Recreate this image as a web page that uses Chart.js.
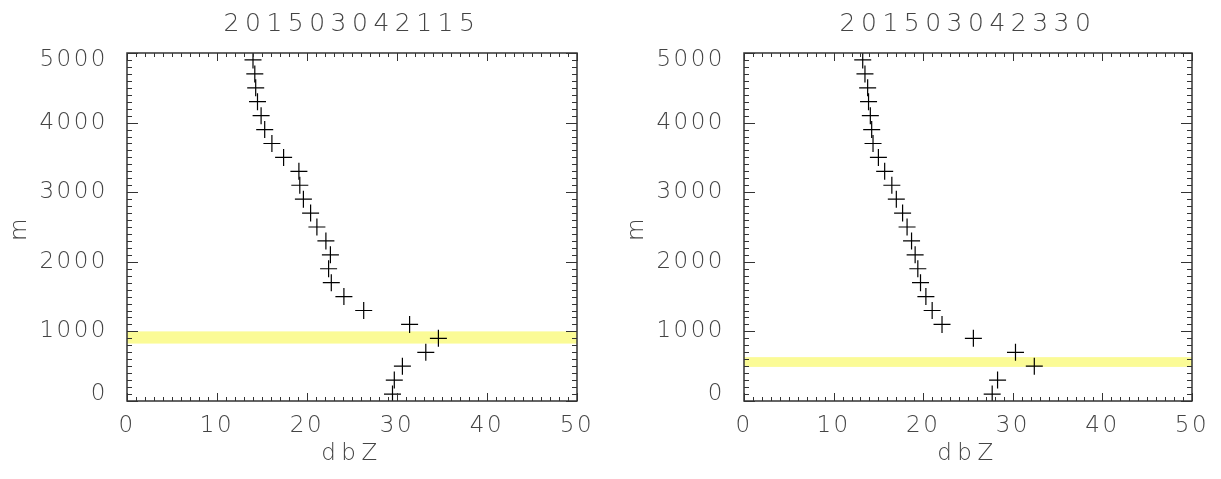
<!DOCTYPE html>
<html>
<head>
<meta charset="utf-8">
<script src="https://cdn.jsdelivr.net/npm/chart.js@4"></script>
<style>
    body { margin: 0; background: #fff; }
    #wrap { position: relative; width: 1221px; height: 479px; }
    #left { position: absolute; left: 0; top: 0; }
    #right { position: absolute; left: 617px; top: 0; }
</style>
</head>
<body>
<div id="wrap">
    <canvas id="left" width="610" height="479"></canvas>
    <canvas id="right" width="604" height="479"></canvas>
</div>
<script>
// heights (m) of the profile levels, shared by both panels
const heights = [100, 300, 500, 700, 900, 1100, 1300, 1500, 1700, 1900, 2100, 2300, 2500,
    2700, 2900, 3100, 3300, 3500, 3700, 3900, 4100, 4300, 4500, 4700, 4900];

// reflectivity (dBZ) per level, bottom to top
const dbzLeft = [29.5, 29.7, 30.6, 33.2, 34.6, 31.4, 26.3, 24.1, 22.7, 22.4, 22.6, 22.1, 21.1,
    20.4, 19.6, 19.2, 19.1, 17.4, 16.1, 15.3, 14.9, 14.5, 14.3, 14.2, 14.0];
const dbzRight = [27.7, 28.3, 32.4, 30.3, 25.6, 22.1, 21.0, 20.3, 19.7, 19.4, 19.1, 18.7, 18.2,
    17.7, 17.0, 16.5, 15.7, 15.0, 14.4, 14.25, 14.1, 13.9, 13.8, 13.5, 13.25];

// highlighted height band [bottom, top] in m
const bandLeft = [825, 1000];
const bandRight = [490, 630];

const titles = ['201503042115', '201503042330'];
const xTicks = [0, 50];
const yTicks = [0, 5000];

const textColor = '#444';
const axisColor = '#333';
const fontFamily = '"DejaVu Sans", sans-serif';
const fontWeight = 200;

// yellow band, frame with inward ticks, IDL-like letter spacing
const frameTicks = {
    id: 'frameTicks',
    beforeDraw(chart) {
        chart.ctx.letterSpacing = '5.5px';
        // end labels of the y axis sit inside the range, as in IDL
        const items = chart.scales.y.getLabelItems();
        if (!items._nudged && items.length) {
            items[0].options.translation[1] -= 7;
            items[items.length - 1].options.translation[1] += 7;
            items._nudged = true;
        }
    },
    beforeDatasetsDraw(chart, args, opts) {
        const { ctx, chartArea, scales } = chart;
        ctx.letterSpacing = '2.5px';
        const yTop = scales.y.getPixelForValue(opts.band[1]);
        const yBot = scales.y.getPixelForValue(opts.band[0]);
        ctx.save();
        ctx.fillStyle = '#fbfb96';
        ctx.fillRect(chartArea.left, yTop, chartArea.right - chartArea.left, yBot - yTop);
        ctx.restore();
    },
    afterDatasetsDraw(chart) {
        const { ctx, chartArea, scales } = chart;
        const { left, right, top, bottom } = chartArea;
        ctx.save();
        ctx.strokeStyle = axisColor;
        ctx.lineWidth = 1.5;
        ctx.strokeRect(left, top, right - left, bottom - top);
        ctx.lineWidth = 1;
        ctx.beginPath();
        for (let v = 0; v <= 50; v += 1) {
            const x = Math.round(scales.x.getPixelForValue(v)) + 0.5;
            const len = v % 10 === 0 ? 8 : 4;
            ctx.moveTo(x, bottom);
            ctx.lineTo(x, bottom - len);
            ctx.moveTo(x, top);
            ctx.lineTo(x, top + len);
        }
        for (let v = 0; v <= 5000; v += 100) {
            const y = Math.round(scales.y.getPixelForValue(v)) + 0.5;
            const len = v % 1000 === 0 ? 11 : 5;
            ctx.moveTo(left, y);
            ctx.lineTo(left + len, y);
            ctx.moveTo(right, y);
            ctx.lineTo(right - len, y);
        }
        ctx.stroke();
        ctx.restore();
    }
};

function makeChart(id, title, dbz, band, padRight) {
    const points = heights.map((h, i) => ({ x: dbz[i], y: h }));
    const labelFont = { family: fontFamily, size: 23, weight: fontWeight };
    return new Chart(document.getElementById(id), {
        type: 'scatter',
        data: {
            datasets: [{
                data: points,
                pointStyle: 'cross',
                pointRadius: 8.5,
                pointHoverRadius: 8.5,
                borderColor: '#000',
                backgroundColor: '#000',
                pointBorderWidth: 1.2
            }]
        },
        options: {
            responsive: false,
            animation: false,
            devicePixelRatio: 1,
            layout: { padding: { left: 0, right: padRight, top: 0, bottom: 0 } },
            scales: {
                x: {
                    type: 'linear',
                    min: xTicks[0],
                    max: xTicks[1],
                    grid: { display: false },
                    border: { display: false },
                    ticks: {
                        z: 1,
                        stepSize: 10,
                        padding: 3,
                        color: textColor,
                        font: labelFont,
                        callback: (v) => String(v)
                    },
                    title: {
                        display: true,
                        text: 'dbZ',
                        color: textColor,
                        font: labelFont,
                        padding: { top: 0, bottom: 11 }
                    },
                    afterFit: (scale) => { scale.height = 78; }
                },
                y: {
                    type: 'linear',
                    min: yTicks[0],
                    max: yTicks[1],
                    grid: { display: false },
                    border: { display: false },
                    ticks: {
                        z: 1,
                        stepSize: 1000,
                        padding: 11,
                        color: textColor,
                        font: labelFont,
                        callback: (v) => String(v)
                    },
                    title: {
                        display: true,
                        text: 'm',
                        color: textColor,
                        font: labelFont,
                        padding: { top: 6, bottom: 0 }
                    },
                    afterFit: (scale) => { scale.width = 127; }
                }
            },
            plugins: {
                legend: { display: false },
                tooltip: { enabled: false },
                title: {
                    display: true,
                    text: title,
                    fullSize: false,
                    color: textColor,
                    font: { family: fontFamily, size: 25, weight: fontWeight },
                    padding: { top: 9, bottom: 14 }
                },
                frameTicks: { band: band }
            }
        },
        plugins: [frameTicks]
    });
}

makeChart('left', titles[0], dbzLeft, bandLeft, 33);
makeChart('right', titles[1], dbzRight, bandRight, 29);
</script>
</body>
</html>
